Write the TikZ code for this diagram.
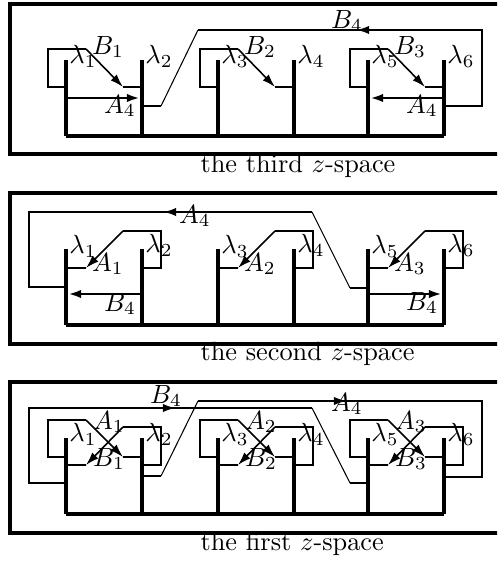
\documentclass[tikz,border=0pt]{standalone}
\usepackage{amsmath}
\usetikzlibrary{arrows.meta}

\begin{document}
\begin{tikzpicture}[x=0.38pt, y=-0.38pt,
    frame/.style={line width=1.5pt},
    bar/.style={line width=1.3pt},
    wire/.style={line width=1pt},
    tip/.style={-{Latex[length=5pt, width=3.2pt]}},
    flow/.style={line width=0.6pt, tip},
    lab/.style={inner sep=0pt},
    spacename/.style={anchor=base west, inner sep=0pt}]
  \useasboundingbox (0,0) rectangle (497,562);
  \clip (0,0) rectangle (497,562);

  % the third z-space
  \draw[frame] (10,4) rectangle (520,154);
  \foreach \x in {66,142,218,294,368,444}
    \draw[bar] (\x,60) -- (\x,136);
  \draw[bar] (66,136) -- (444,136);
  \foreach \xl/\i/\j/\k in {66/1/1/2, 218/2/3/4, 368/3/5/6} {
    \draw[wire] (\xl,87) -- (\xl-18,87) -- (\xl-18,49) -- (\xl+20,49);
    \draw[flow] (\xl+20,49) -- (\xl+57,87);
    \draw[wire] (\xl+57,87) -- (\xl+76,87);
    \node[lab] (t-l\j) at (\xl+17,56) {$\lambda_\j$};
    \node[lab] (t-l\k) at (\xl+93,56) {$\lambda_\k$};
    \node[lab] (t-b\i) at (\xl+42,47) {$B_\i$};
  }
  \draw[wire, tip] (66,98) -- (140,98);
  \draw[wire, tip] (444,98) -- (370,98);
  \node[lab] (t-a4l) at (120,106) {$A_4$};
  \node[lab] (t-a4r) at (422,106) {$A_4$};
  \draw[wire] (142,106) -- (161,106);
  \draw[thin] (161,106) -- (198,30);
  \draw[wire] (198,30) -- (482,30) -- (482,106) -- (444,106);
  \draw[wire, tip] (482,30) -- (356,30);
  \node[lab] (t-b4) at (347,21) {$B_4$};
  \node[spacename] (name3) at (200,173) {the third $z$-space};

  % the second z-space
  \draw[frame] (10,193) rectangle (520,344);
  \foreach \x in {66,142,218,294,368,444}
    \draw[bar] (\x,249) -- (\x,325);
  \draw[bar] (66,325) -- (444,325);
  \foreach \xl/\i/\j/\k in {66/1/1/2, 218/2/3/4, 368/3/5/6} {
    \draw[wire] (\xl+76,268) -- (\xl+95,268) -- (\xl+95,231) -- (\xl+57,231);
    \draw[flow] (\xl+57,231) -- (\xl+20,268);
    \draw[wire] (\xl+20,268) -- (\xl,268);
    \node[lab] (s-l\j) at (\xl+17,246) {$\lambda_\j$};
    \node[lab] (s-l\k) at (\xl+93,245) {$\lambda_\k$};
    \node[lab] (s-a\i) at (\xl+42,264) {$A_\i$};
  }
  \draw[wire] (66,287) -- (29,287) -- (29,212) -- (312,212);
  \draw[thin] (312,212) -- (350,288);
  \draw[wire] (350,288) -- (368,288);
  \draw[wire, tip] (312,212) -- (163,212);
  \node[lab] (s-a4) at (195,216) {$A_4$};
  \draw[wire, tip] (142,294) -- (68,294);
  \draw[wire, tip] (368,294) -- (442,294);
  \node[lab] (s-b4l) at (120,304) {$B_4$};
  \node[lab] (s-b4r) at (422,303) {$B_4$};
  \node[spacename] (name2) at (200,361) {the second $z$-space};

  % the first z-space
  \draw[frame] (10,382) rectangle (520,533);
  \foreach \x in {66,142,218,294,368,444}
    \draw[bar] (\x,438) -- (\x,514);
  \draw[bar] (66,514) -- (444,514);
  \foreach \xl/\i/\j/\k in {66/1/1/2, 218/2/3/4, 368/3/5/6} {
    \draw[wire] (\xl,457) -- (\xl-18,457) -- (\xl-18,420) -- (\xl+20,420);
    \draw[flow] (\xl+20,420) -- (\xl+57,457);
    \draw[wire] (\xl+57,457) -- (\xl+76,457);
    \draw[wire] (\xl+76,465) -- (\xl+95,465) -- (\xl+95,427) -- (\xl+57,427);
    \draw[flow] (\xl+57,427) -- (\xl+20,465);
    \draw[wire] (\xl+20,465) -- (\xl,465);
    \node[lab] (f-l\j) at (\xl+17,434) {$\lambda_\j$};
    \node[lab] (f-l\k) at (\xl+93,434) {$\lambda_\k$};
    \node[lab] (f-a\i) at (\xl+43,422) {$A_\i$};
    \node[lab] (f-b\i) at (\xl+43,459) {$B_\i$};
  }
  \draw[wire] (66,483) -- (29,483) -- (29,408) -- (312,408);
  \draw[thin] (312,408) -- (350,483);
  \draw[wire] (350,483) -- (368,483);
  \draw[wire, tip] (29,408) -- (176,408);
  \node[lab] (f-b4) at (166,396) {$B_4$};
  \draw[wire] (142,476) -- (161,476);
  \draw[thin] (161,476) -- (198,401);
  \draw[wire] (198,401) -- (482,401) -- (482,477) -- (444,477);
  \draw[wire, tip] (198,401) -- (347,401);
  \node[lab] (f-a4) at (347,404) {$A_4$};
  \node[spacename] (name1) at (200,550) {the first $z$-space};
\end{tikzpicture}
\end{document}
